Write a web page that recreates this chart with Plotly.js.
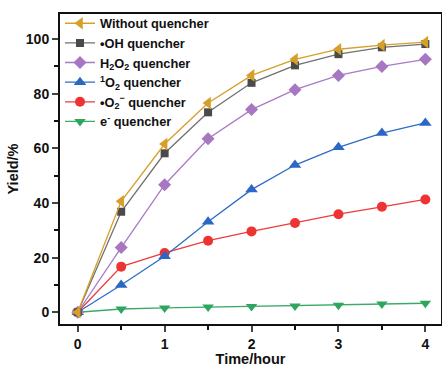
<!DOCTYPE html>
<html>
<head>
<meta charset="utf-8">
<script src="https://cdn.plot.ly/plotly-3.0.1.min.js"></script>
<style>html,body{margin:0;padding:0;background:#fff;}#chart{width:442px;height:367px;}</style>
</head>
<body>
<div id="chart"></div>
<script>
const time = [0, 0.5, 1, 1.5, 2, 2.5, 3, 3.5, 4];
const withoutQuencher = [0, 40.6, 61.6, 76.6, 86.7, 92.6, 96.3, 97.8, 98.9];
const ohQuencher = [0, 36.8, 58.2, 73.2, 84.0, 90.4, 94.5, 97.0, 98.2];
const h2o2Quencher = [0, 23.7, 46.7, 63.5, 74.2, 81.5, 86.7, 90.0, 92.6];
const singletO2Quencher = [0, 10.0, 20.5, 33.1, 44.9, 53.9, 60.4, 65.6, 69.3];
const superoxideQuencher = [0, 16.7, 21.7, 26.2, 29.6, 32.7, 35.9, 38.6, 41.3];
const electronQuencher = [0, 1.2, 1.6, 1.9, 2.1, 2.3, 2.6, 3.0, 3.3];

const seriesNames = [
  "e<sup>-</sup> quencher",
  "•O<sub>2</sub><sup>−</sup> quencher",
  "<sup>1</sup>O<sub>2</sub> quencher",
  "H<sub>2</sub>O<sub>2</sub> quencher",
  "•OH quencher",
  "Without quencher"
];
const seriesValues = [electronQuencher, superoxideQuencher, singletO2Quencher, h2o2Quencher, ohQuencher, withoutQuencher];
const lineColors = ["#3BAA66", "#EE3B3B", "#2E6BC6", "#A87BC4", "#707070", "#D69F28"];
const markerColors = ["#2EA65E", "#EE3333", "#2B68C4", "#A777C2", "#4A4A4A", "#D69F28"];
const markerSymbols = ["triangle-down", "circle", "triangle-up", "diamond", "square", "triangle-left"];
const markerSizes = [10, 10, 11, 10, 8, 11];

const traces = seriesNames.map((n, i) => ({
  x: time, y: seriesValues[i], name: n, type: "scatter", mode: "lines+markers",
  line: {color: lineColors[i], width: 1.3},
  marker: {color: markerColors[i], symbol: markerSymbols[i], size: markerSizes[i]}
}));

const font = {family: "Liberation Sans, Arial, sans-serif", color: "#111"};
const layout = {
  width: 442, height: 367,
  margin: {l: 60, r: 1, t: 14, b: 43, pad: 0},
  paper_bgcolor: "#fff", plot_bgcolor: "#fff",
  showlegend: true,
  legend: {x: 0, y: 1.018, xanchor: "left", yanchor: "top", traceorder: "reversed",
    font: {family: font.family, size: 12.8, color: "#111", weight: "bold"},
    bgcolor: "rgba(0,0,0,0)", borderwidth: 0, tracegroupgap: 0},
  xaxis: {
    range: [-0.204, 4.18], tickvals: [0, 1, 2, 3, 4], ticks: "outside", ticklen: 6, tickwidth: 2,
    minor: {tickvals: [0.5, 1.5, 2.5, 3.5], ticks: "outside", ticklen: 4, tickwidth: 2, tickcolor: "#111"},
    showline: true, linewidth: 2, linecolor: "#111", mirror: true, showgrid: false, zeroline: false,
    tickfont: {family: font.family, size: 14, color: "#111", weight: "bold"},
    title: {text: "Time/hour", font: {family: font.family, size: 14.5, color: "#111", weight: "bold"}, standoff: 2}
  },
  yaxis: {
    range: [-4.3, 109.2], tickvals: [0, 20, 40, 60, 80, 100], ticks: "outside", ticklen: 6, tickwidth: 2,
    minor: {tickvals: [10, 30, 50, 70, 90], ticks: "outside", ticklen: 4, tickwidth: 2, tickcolor: "#111"},
    showline: true, linewidth: 2, linecolor: "#111", mirror: true, showgrid: false, zeroline: false,
    tickfont: {family: font.family, size: 14, color: "#111", weight: "bold"},
    title: {text: "Yield/%", font: {family: font.family, size: 14.5, color: "#111", weight: "bold"}, standoff: 4}
  }
};
Plotly.newPlot("chart", traces, layout, {displayModeBar: false, staticPlot: true});
</script>
</body>
</html>
